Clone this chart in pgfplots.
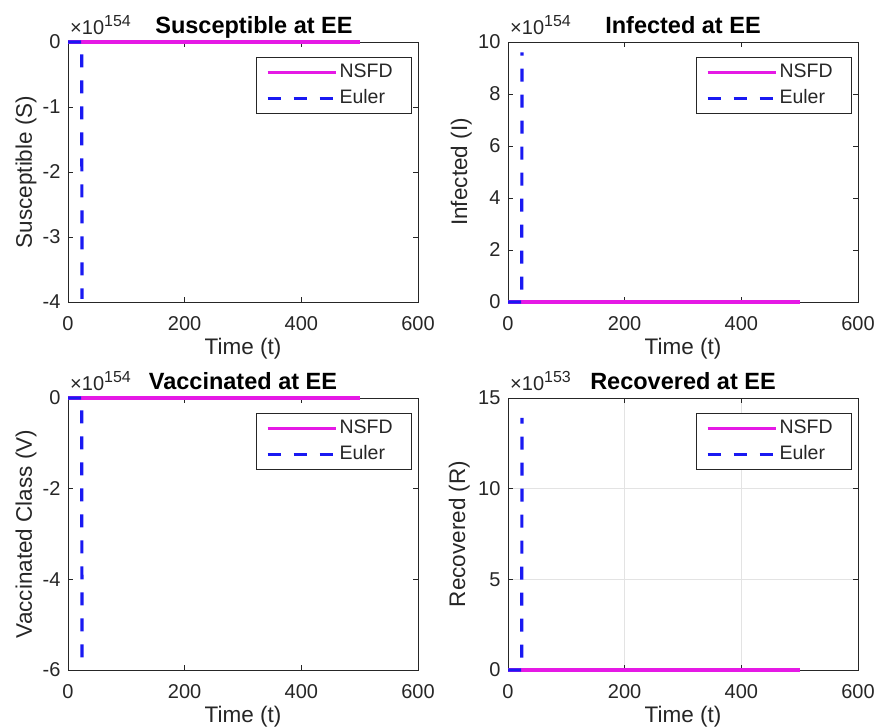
\documentclass[border=0pt]{standalone}
\usepackage{fontspec}
\setmainfont{Liberation Sans}
\usepackage{pgfplots}
\pgfplotsset{compat=1.18}
\definecolor{axgray}{gray}{0.15}
\definecolor{eulerblue}{rgb}{0.1,0.1,0.95}
\definecolor{nsfd}{rgb}{0.9,0.1,0.9}
\newcommand{\fs}{\fontsize{20}{24}\selectfont}
\newcommand{\fl}{\fontsize{22.5}{26}\selectfont}
\newcommand{\ft}{\bfseries\fontsize{23.5}{27}\selectfont}
\pgfplotsset{
 mystyle/.style={
  scale only axis, width=350pt,
  xmin=0, xmax=600, xtick={0,200,400,600},
  clip=false,
  axis line style={axgray, line width=1pt},
  tick style={axgray, line width=0.8pt},
  major tick length=5pt,
  tick align=inside,
  ticklabel style={font=\fs, text=axgray},
  /pgf/number format/assume math mode=true,
  xticklabel style={yshift=-11pt},
  yticklabel style={xshift=-4pt},
  label style={font=\fl, text=axgray},
  xlabel={Time (t)},
  xlabel style={at={(axis description cs:0.5,0)}, anchor=base, yshift=-52pt},
  legend style={at={(1,1)}, anchor=north east, xshift=-6pt, yshift=-15pt,
    draw=axgray, line width=0.8pt, fill=white,
    inner xsep=9pt, inner ysep=6pt, row sep=8pt, column sep=2pt,
    font=\fontsize{19.5}{23}\selectfont, text=axgray,
    nodes={inner sep=0pt, text height=14pt, text depth=4pt}},
  legend cell align=left,
  legend image code/.code={\draw[##1] (0pt,0pt) -- (68pt,0pt);},
 },
 nsfdline/.style={nsfd, line width=3.8pt},
 eulerline/.style={eulerblue, line width=3.2pt, dash pattern=on 13pt off 13pt},
}
\begin{document}
\begin{tikzpicture}
\path[use as bounding box] (0pt,0pt) rectangle (877pt,-726pt);

% Top left: Susceptible
\begin{axis}[mystyle, at={(68pt,-42pt)}, anchor=north west, height=260pt,
  ymin=-4, ymax=0, ytick={-4,-3,-2,-1,0}]
\addplot[nsfdline] coordinates {(0,0) (500,0)};
\addlegendentry{NSFD\hspace*{10pt}}
\addplot[eulerline] coordinates {(0,0) (23.5,0) (24,-3.95)};
\addlegendentry{Euler}
\node[anchor=base, font=\ft, text=black] at ([xshift=11pt, yshift=9pt]rel axis cs:0.5,1) {Susceptible at EE};
\node[anchor=base west, inner sep=0pt, font=\fs, text=axgray] at ([xshift=2pt, yshift=8pt]rel axis cs:0,1) {×10\raisebox{8pt}{\fontsize{16}{18}\selectfont 154}};
\node[rotate=90, anchor=base, font=\fl, text=axgray, inner sep=0pt] at ([xshift=-36pt]rel axis cs:0,0.5) {Susceptible (S)};
\end{axis}

% Top right: Infected
\begin{axis}[mystyle, at={(508pt,-42pt)}, anchor=north west, height=260pt,
  ymin=0, ymax=10, ytick={0,2,4,6,8,10}]
\addplot[nsfdline] coordinates {(0,0) (500,0)};
\addlegendentry{NSFD\hspace*{10pt}}
\addplot[eulerline] coordinates {(0,0) (23.5,0) (24,9.6)};
\addlegendentry{Euler}
\node[anchor=base, font=\ft, text=black] at ([yshift=9pt]rel axis cs:0.5,1) {Infected at EE};
\node[anchor=base west, inner sep=0pt, font=\fs, text=axgray] at ([xshift=2pt, yshift=8pt]rel axis cs:0,1) {×10\raisebox{8pt}{\fontsize{16}{18}\selectfont 154}};
\node[rotate=90, anchor=base, font=\fl, text=axgray, inner sep=0pt] at ([xshift=-41pt]rel axis cs:0,0.5) {Infected (I)};
\end{axis}

% Bottom left: Vaccinated
\begin{axis}[mystyle, at={(68pt,-398pt)}, anchor=north west, height=272pt,
  ymin=-6, ymax=0, ytick={-6,-4,-2,0}]
\addplot[nsfdline] coordinates {(0,0) (500,0)};
\addlegendentry{NSFD\hspace*{10pt}}
\addplot[eulerline] coordinates {(0,0) (23.5,0) (24,-5.95)};
\addlegendentry{Euler}
\node[anchor=base, font=\ft, text=black] at ([yshift=9pt]rel axis cs:0.5,1) {Vaccinated at EE};
\node[anchor=base west, inner sep=0pt, font=\fs, text=axgray] at ([xshift=2pt, yshift=8pt]rel axis cs:0,1) {×10\raisebox{8pt}{\fontsize{16}{18}\selectfont 154}};
\node[rotate=90, anchor=base, font=\fl, text=axgray, inner sep=0pt] at ([xshift=-36pt]rel axis cs:0,0.5) {Vaccinated Class (V)};
\end{axis}

% Bottom right: Recovered
\begin{axis}[mystyle, at={(508pt,-398pt)}, anchor=north west, height=272pt,
  ymin=0, ymax=15, ytick={0,5,10,15},
  grid=major, major grid style={gray!22, line width=0.6pt}]
\addplot[nsfdline] coordinates {(0,0) (500,0)};
\addlegendentry{NSFD\hspace*{10pt}}
\addplot[eulerline] coordinates {(0,0) (23.5,0) (24,13.9)};
\addlegendentry{Euler}
\node[anchor=base, font=\ft, text=black] at ([yshift=9pt]rel axis cs:0.5,1) {Recovered at EE};
\node[anchor=base west, inner sep=0pt, font=\fs, text=axgray] at ([xshift=2pt, yshift=8pt]rel axis cs:0,1) {×10\raisebox{8pt}{\fontsize{16}{18}\selectfont 153}};
\node[rotate=90, anchor=base, font=\fl, text=axgray, inner sep=0pt] at ([xshift=-43pt]rel axis cs:0,0.5) {Recovered (R)};
\end{axis}
\end{tikzpicture}
\end{document}
